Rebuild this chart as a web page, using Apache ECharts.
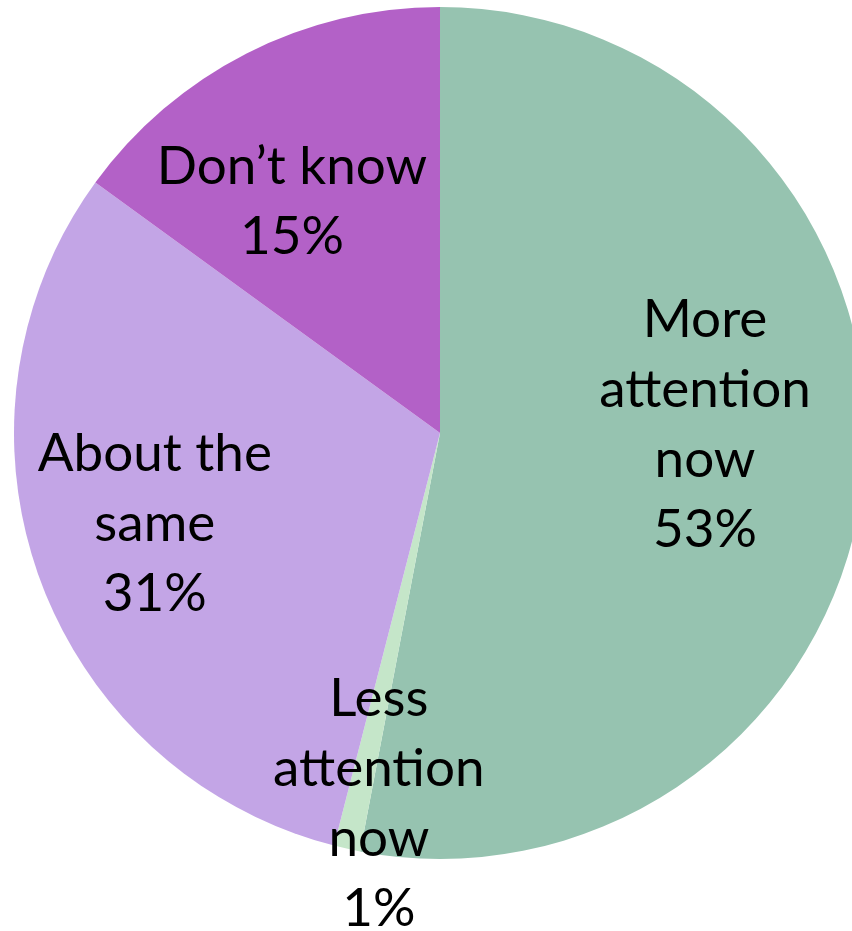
<!DOCTYPE html>
<html>
<head>
<meta charset="utf-8">
<script src="https://cdn.jsdelivr.net/npm/echarts@6/dist/echarts.min.js"></script>
<style>
  html, body { margin: 0; padding: 0; background: #ffffff; }
  #chart { width: 852px; height: 931px; }
</style>
</head>
<body>
<div id="chart"></div>
<script>
// Survey answers, clockwise from 12 o'clock
const categories = ['More\nattention\nnow', 'Less\nattention\nnow', 'About the\nsame', 'Don\u2019t know'];
const shares = [53, 1, 31, 15];
const sliceColors = ['#96c3b0', '#c5e6c9', '#c3a5e6', '#b361c7'];
// label nudges away from the default inside position (dx, dy)
const labelShift = [[50, -28], [-14, 160], [-82, 18], [-50, -39]];

const chart = echarts.init(document.getElementById('chart'));
chart.setOption({
  animation: false,
  series: [{
    type: 'pie',
    center: [440, 433],
    radius: [0, 426],
    startAngle: 90,
    clockwise: true,
    avoidLabelOverlap: false,
    itemStyle: { borderWidth: 0 },
    label: {
      show: true,
      position: 'inside',
      formatter: p => p.name + '\n' + p.value + '%',
      color: '#000000',
      fontFamily: 'Lato, "Noto Sans", sans-serif',
      fontSize: 53,
      lineHeight: 70,
      align: 'center'
    },
    labelLine: { show: false },
    labelLayout: p => ({ dx: labelShift[p.dataIndex][0], dy: labelShift[p.dataIndex][1] }),
    data: categories.map((c, i) => ({
      name: c,
      value: shares[i],
      itemStyle: { color: sliceColors[i] }
    }))
  }]
});
</script>
</body>
</html>
